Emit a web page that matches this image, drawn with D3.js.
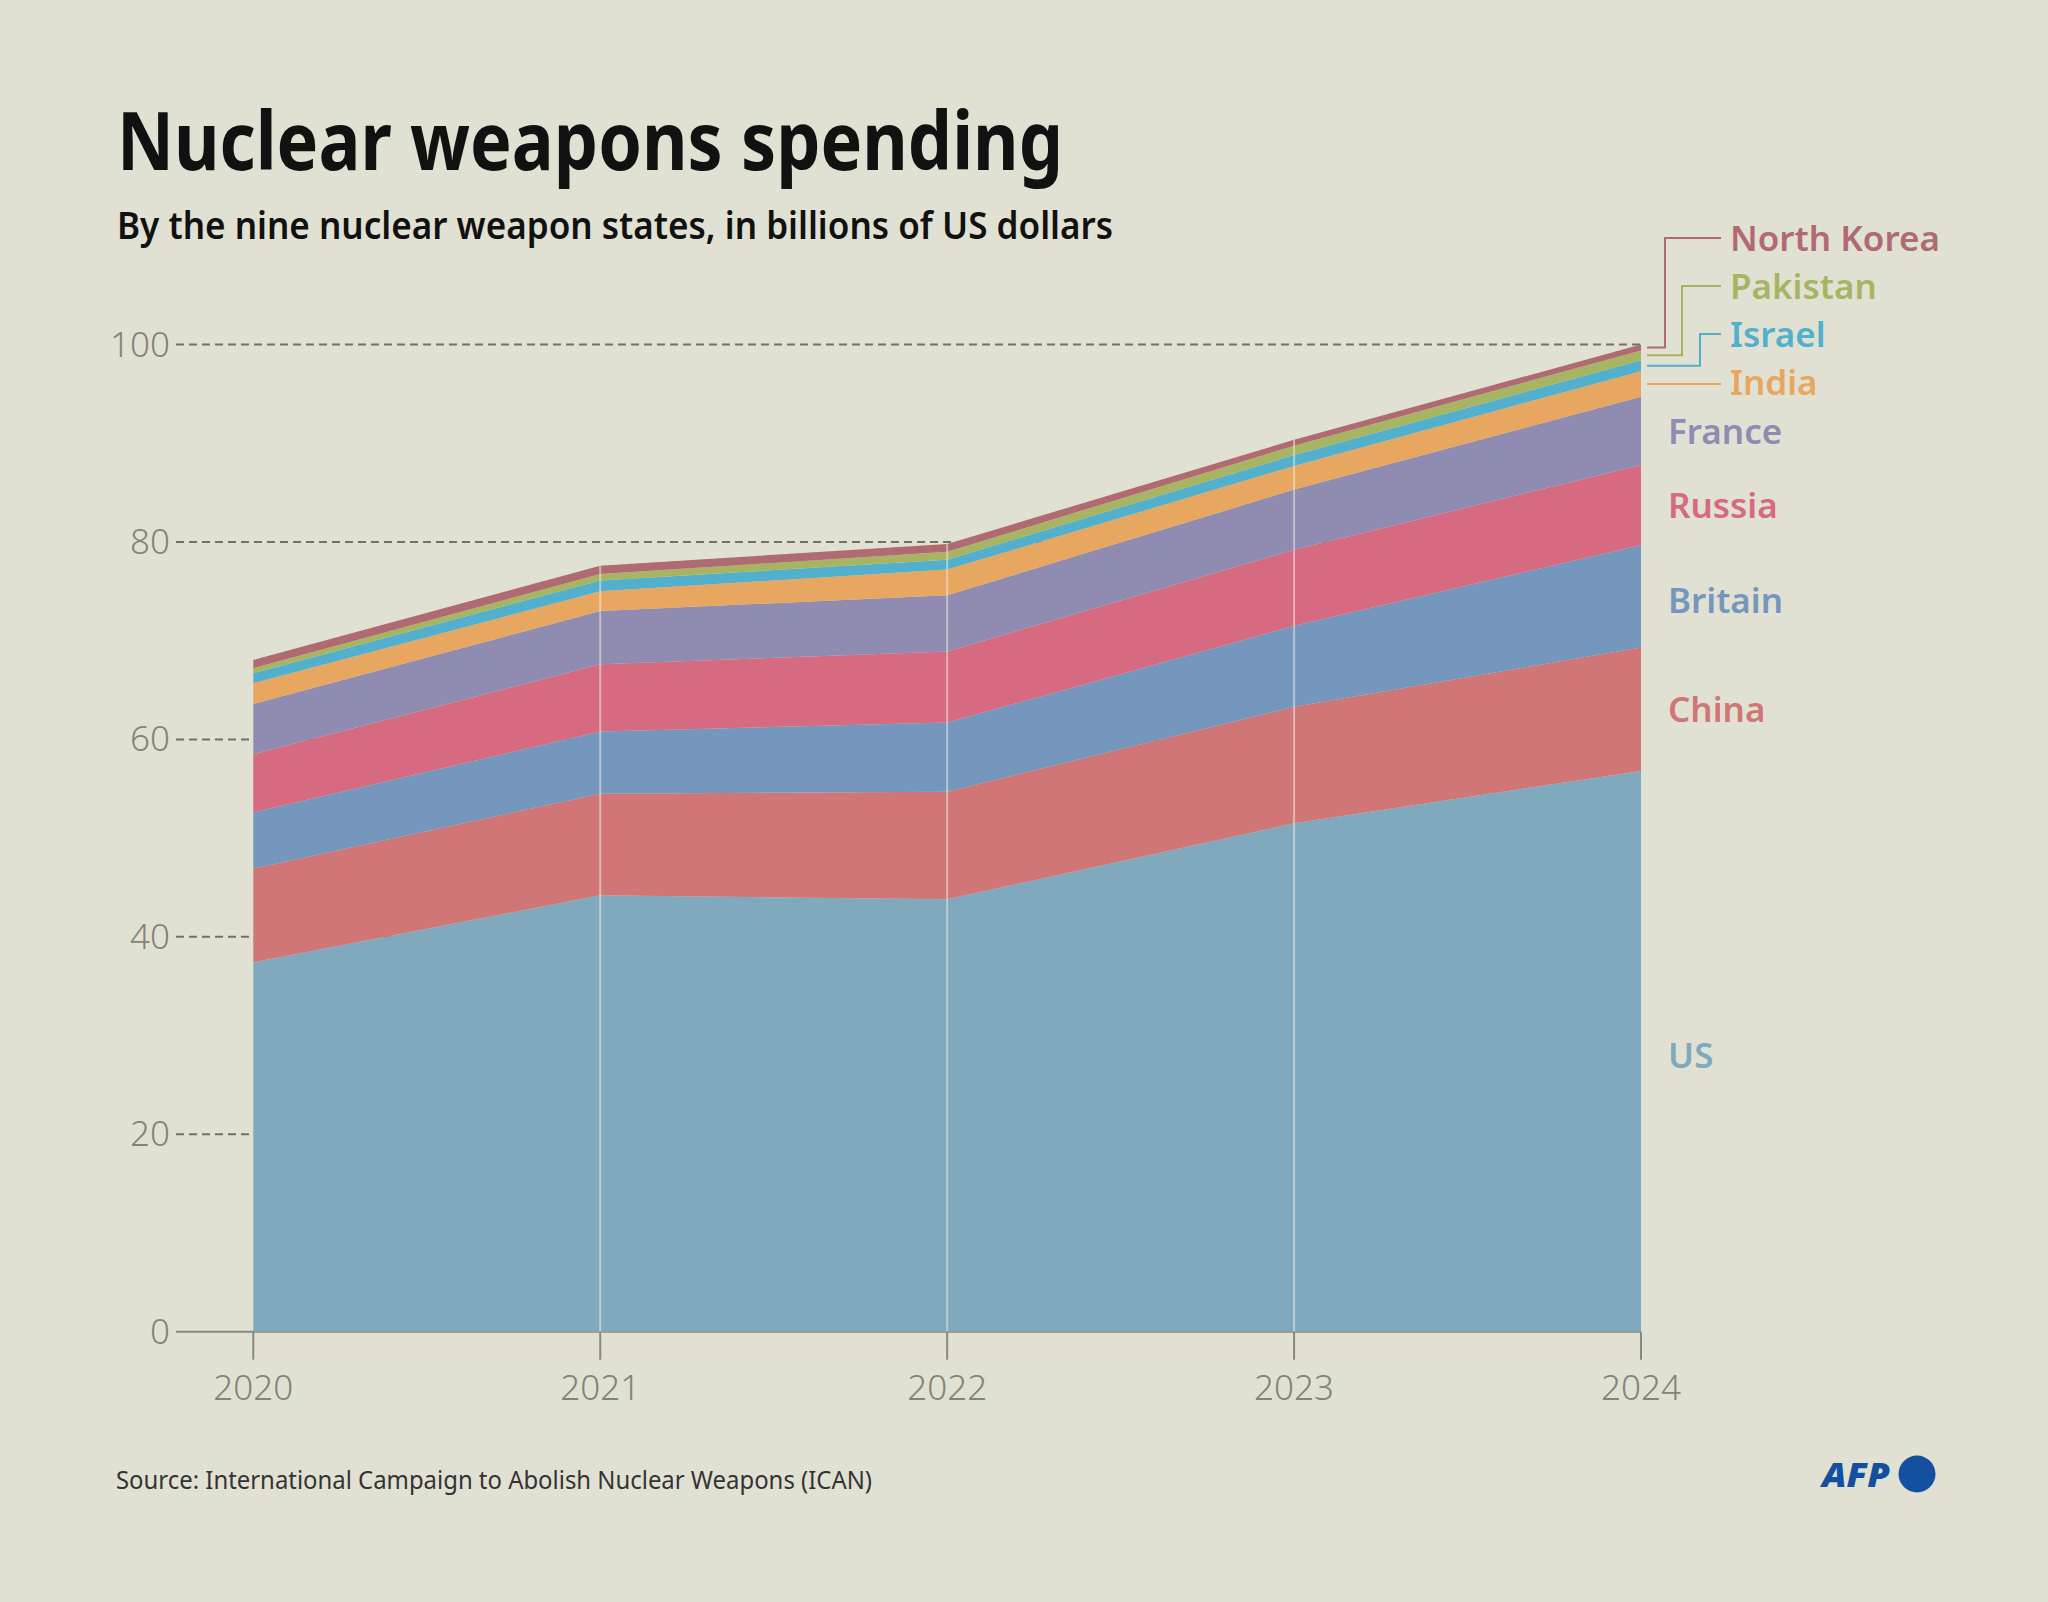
<!DOCTYPE html>
<html>
<head>
<meta charset="utf-8">
<script src="https://cdn.jsdelivr.net/npm/d3@7"></script>
<style>
  html, body { margin: 0; padding: 0; background: #e1e1d3; }
  svg { display: block; }
</style>
</head>
<body>
<svg id="chart" width="2048" height="1602"></svg>
<script>
// ---- data (billions of US dollars) ----
const years = [2020, 2021, 2022, 2023, 2024];
const countries = ["US", "China", "Britain", "Russia", "France", "India", "Israel", "Pakistan", "North Korea"];
const us         = [37.4, 44.2, 43.8, 51.5, 56.8];
const china      = [9.5, 10.3, 10.9, 11.8, 12.5];
const britain    = [5.7, 6.3, 7.0, 8.2, 10.4];
const russia     = [5.9, 6.8, 7.2, 7.7, 8.1];
const france     = [5.1, 5.4, 5.7, 6.1, 6.9];
const india      = [2.1, 2.0, 2.6, 2.4, 2.6];
const israel     = [1.0, 1.1, 1.0, 1.1, 1.1];
const pakistan   = [0.5, 0.65, 0.8, 0.95, 1.0];
const northKorea = [0.85, 0.85, 0.8, 0.6, 0.6];
const yTicks = [0, 20, 40, 60, 80, 100];
const colors = ["#80a9bd", "#d07676", "#7596bd", "#d56a80", "#8f8bb1", "#e8a760", "#52b0cd", "#a7b563", "#b06a72"];

const series = [us, china, britain, russia, france, india, israel, pakistan, northKorea];
const rows = years.map((yr, i) => {
  const r = { year: yr };
  countries.forEach((c, k) => r[c] = series[k][i]);
  return r;
});

const svg = d3.select("#chart");
svg.append("rect").attr("width", 2048).attr("height", 1602).attr("fill", "#e1e1d3");

const x = d3.scaleLinear().domain([2020, 2024]).range([253.3, 1641]);
const y = d3.scaleLinear().domain([0, 100]).range([1331.7, 344.5]);

const FONT = "'Noto Sans', 'Open Sans', sans-serif";

// title & subtitle
svg.append("text").attr("x", 117).attr("y", 170)
  .attr("font-family", FONT).attr("font-weight", 700).attr("font-size", 80)
  .attr("fill", "#111").attr("textLength", 946).attr("lengthAdjust", "spacingAndGlyphs")
  .text("Nuclear weapons spending");
svg.append("text").attr("x", 117).attr("y", 239)
  .attr("font-family", FONT).attr("font-weight", 600).attr("font-size", 38)
  .attr("fill", "#111").attr("textLength", 996).attr("lengthAdjust", "spacingAndGlyphs")
  .text("By the nine nuclear weapon states, in billions of US dollars");

// gridlines
const gridX0 = 176;
svg.append("g").selectAll("line").data(yTicks.filter(d => d > 0)).join("line")
  .attr("x1", gridX0).attr("x2", x(2024))
  .attr("y1", d => y(d)).attr("y2", d => y(d))
  .attr("stroke", "#727169").attr("stroke-width", 2)
  .attr("stroke-dasharray", "8,5");
svg.append("line").attr("x1", gridX0).attr("x2", x(2024))
  .attr("y1", y(0)).attr("y2", y(0))
  .attr("stroke", "#8a887c").attr("stroke-width", 2);

// y tick labels
svg.append("g").selectAll("text").data(yTicks).join("text")
  .attr("x", 170).attr("y", d => y(d) + 12)
  .attr("text-anchor", "end")
  .attr("font-family", FONT).attr("font-weight", 300).attr("font-size", 35)
  .attr("fill", "#858377")
  .text(d => d);

// stacked areas
const stackGen = d3.stack().keys(countries);
const stacked = stackGen(rows);
const area = d3.area()
  .x(d => x(d.data.year))
  .y0(d => y(d[0]))
  .y1(d => y(d[1]));
svg.append("g").selectAll("path").data(stacked).join("path")
  .attr("d", area)
  .attr("fill", (d, i) => colors[i]);

// vertical year lines inside area
const topLayer = stacked[stacked.length - 1];
svg.append("g").selectAll("line").data(years.slice(1, -1)).join("line")
  .attr("x1", d => x(d)).attr("x2", d => x(d))
  .attr("y1", y(0)).attr("y2", d => y(topLayer[years.indexOf(d)][1]))
  .attr("stroke", "rgba(235,235,225,0.55)").attr("stroke-width", 2);

// x axis ticks and labels
const xg = svg.append("g");
xg.selectAll("line").data(years).join("line")
  .attr("x1", d => x(d)).attr("x2", d => x(d))
  .attr("y1", y(0)).attr("y2", y(0) + 28)
  .attr("stroke", "#8a887c").attr("stroke-width", 2);
xg.selectAll("text").data(years).join("text")
  .attr("x", d => x(d)).attr("y", 1400)
  .attr("text-anchor", "middle")
  .attr("font-family", FONT).attr("font-weight", 300).attr("font-size", 35)
  .attr("fill", "#858377")
  .text(d => d);

// labels
const lastIdx = years.length - 1;
const labelX = 1668;
const mid = k => y((stacked[k][lastIdx][0] + stacked[k][lastIdx][1]) / 2);
const labelDy = [17, 13, 17, 13, 13];
const lg = svg.append("g");
[0, 1, 2, 3, 4].forEach(k => {
  lg.append("text").attr("x", labelX).attr("y", mid(k) + labelDy[k])
    .attr("font-family", FONT).attr("font-weight", 600).attr("font-size", 35)
    .attr("fill", colors[k]).text(countries[k]);
});
const smallLabelY = { 5: 395, 6: 347, 7: 299, 8: 251 };
const elbowX = { 5: null, 6: 1700, 7: 1682, 8: 1665 };
const leadX0 = 1647, leadX1 = 1721;
[5, 6, 7, 8].forEach(k => {
  const yA = mid(k);
  const yB = smallLabelY[k] - 13;
  let pts;
  if (elbowX[k] === null) {
    pts = [[leadX0, yA], [leadX1, yA]];
  } else {
    pts = [[leadX0, yA], [elbowX[k], yA], [elbowX[k], yB], [leadX1, yB]];
  }
  lg.append("path").attr("d", d3.line()(pts))
    .attr("fill", "none").attr("stroke", colors[k]).attr("stroke-width", 2);
  lg.append("text").attr("x", 1730).attr("y", smallLabelY[k])
    .attr("font-family", FONT).attr("font-weight", 600).attr("font-size", 35)
    .attr("fill", colors[k]).text(countries[k]);
});

// source
svg.append("text").attr("x", 116).attr("y", 1489)
  .attr("font-family", FONT).attr("font-weight", 400).attr("font-size", 26)
  .attr("fill", "#333").attr("textLength", 756).attr("lengthAdjust", "spacingAndGlyphs")
  .text("Source: International Campaign to Abolish Nuclear Weapons (ICAN)");

// AFP logo
svg.append("text").attr("x", 1822).attr("y", 1487)
  .attr("font-family", FONT).attr("font-weight", 900).attr("font-style", "italic")
  .attr("font-size", 34).attr("fill", "#1550a0")
  .attr("textLength", 68).attr("lengthAdjust", "spacingAndGlyphs")
  .text("AFP");
svg.append("circle").attr("cx", 1917).attr("cy", 1474).attr("r", 18.5).attr("fill", "#1550a0");
</script>
</body>
</html>
